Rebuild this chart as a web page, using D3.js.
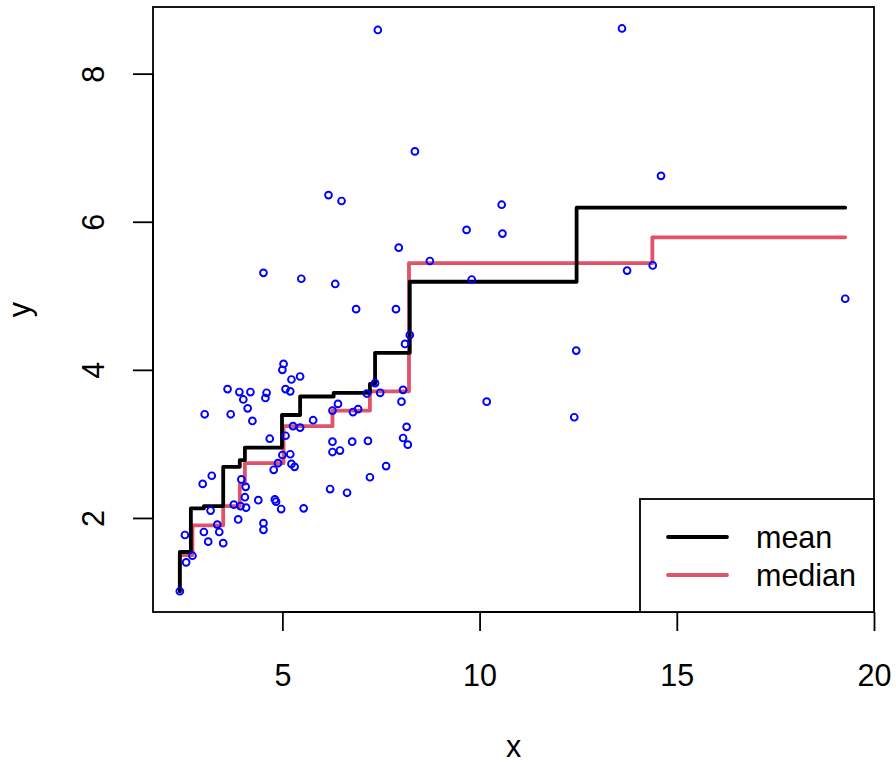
<!DOCTYPE html>
<html>
<head>
<meta charset="utf-8">
<script src="https://cdn.jsdelivr.net/npm/d3@7"></script>
<style>
    body { margin: 0; background: #fff; }
    svg text { font-family: "Liberation Sans", Arial, Helvetica, sans-serif; font-size: 30.5px; fill: #000; }
</style>
</head>
<body>
<div id="chart"></div>
<script>
//Datos
const xVals = [2.40, 2.56, 2.72, 2.53, 3.01, 3.12, 3.35, 3.40, 3.50, 3.18, 2.98, 3.21, 3.88, 4.52, 4.52, 3.77, 3.94, 4.08, 4.05, 4.07,
    3.96, 4.39, 4.81, 4.84, 4.97, 5.54, 4.78, 4.89, 5.00, 5.20, 5.23, 5.31, 4.68, 5.08, 5.27, 5.45, 5.78, 4.24, 3.03, 3.69,
    4.12, 4.01, 4.57, 4.60, 4.19, 3.91, 3.61, 5.08, 5.20, 5.23, 5.45, 5.00, 5.03, 6.27, 6.41, 6.79, 6.92, 6.27, 6.77, 7.17,
    6.27, 6.46, 7.63, 7.22, 6.21, 6.64, 7.14, 7.48, 7.35, 8.06, 8.02, 8.15, 8.06, 8.18, 8.11, 8.23, 4.52, 5.48, 6.34, 6.87,
    7.88, 7.95, 8.74, 6.17, 6.50, 8.36, 7.42, 9.80, 9.67, 10.56, 10.58, 10.18, 12.45, 12.40, 13.61, 14.60, 13.74, 14.39, 19.27];
const yVals = [1.01, 1.40, 1.49, 1.77, 1.81, 1.68, 1.91, 1.81, 1.66, 2.10, 2.46, 2.57, 1.98, 1.93, 1.84, 2.18, 2.16, 2.14, 2.28, 2.42,
    2.52, 2.24, 2.25, 2.22, 2.12, 2.13, 2.65, 2.74, 2.85, 2.86, 2.73, 2.69, 3.07, 3.11, 3.24, 3.22, 3.32, 3.31, 3.40, 3.40,
    3.48, 3.60, 3.62, 3.69, 3.70, 3.70, 3.74, 3.74, 3.71, 3.87, 3.91, 4.00, 4.08, 3.45, 3.54, 3.43, 3.47, 3.03, 3.03, 3.04,
    2.89, 2.91, 2.70, 2.55, 2.39, 2.34, 3.68, 3.69, 3.82, 3.73, 3.57, 3.23, 3.08, 2.99, 4.35, 4.47, 5.31, 5.23, 5.16, 4.82,
    4.82, 5.65, 5.47, 6.36, 6.28, 6.95, 8.59, 5.22, 5.89, 6.23, 5.84, 3.57, 4.26, 3.36, 8.61, 6.62, 5.34, 5.41, 4.96];

//Escalones: cortes en x y valores de media y mediana
const meanX = [2.40, 2.40, 2.68, 3.01, 3.50, 3.92, 4.05, 4.99, 5.45, 6.30, 7.22, 7.35, 8.23, 12.46, 19.27];
const meanY = [1.01, 1.54, 2.13, 2.16, 2.69, 2.78, 2.95, 3.39, 3.64, 3.69, 3.81, 4.23, 5.19, 6.19, 6.19];
const medianX = [2.40, 2.40, 2.72, 3.50, 3.92, 4.05, 5.03, 6.27, 7.22, 8.21, 14.38, 19.27];
const medianY = [1.01, 1.50, 1.90, 2.16, 2.46, 2.74, 3.24, 3.45, 3.71, 5.44, 5.79, 5.79];

const xTicks = [5, 10, 15, 20];
const yTicks = [2, 4, 6, 8];
const legendLabels = ['mean', 'median'];

//Colores fijos
const COLOR_POINTS = '#0000FF';
const COLOR_MEAN = '#000000';
const COLOR_MEDIAN = '#DF536B';

//Dimensiones
let width = 896, height = 765;
let margin = {top: 7, right: 22, bottom: 153, left: 153};

let svg = d3.select('#chart')
    .append('svg')
        .attr('width', width)
        .attr('height', height);

let x = d3.scaleLinear()
    .domain([1.72, 20.0])
    .range([margin.left, width - margin.right]);

let y = d3.scaleLinear()
    .domain([0.73, 8.9])
    .range([height - margin.bottom, margin.top]);

//Ejes
let xAxis = svg.append('g')
    .attr('transform', 'translate(0,' + (height - margin.bottom) + ')')
    .call(d3.axisBottom(x).tickValues(xTicks).tickSize(19).tickPadding(33).tickFormat(d3.format('d')));
xAxis.select('.domain').remove();
xAxis.append('line')
    .attr('x1', x(xTicks[0])).attr('x2', x(xTicks[xTicks.length - 1]))
    .attr('stroke', '#000').attr('stroke-width', 1.8);
xAxis.selectAll('.tick line').attr('stroke-width', 1.8);

let yAxis = svg.append('g')
    .attr('transform', 'translate(' + margin.left + ',0)')
    .call(d3.axisLeft(y).tickValues(yTicks).tickSize(20).tickFormat(d3.format('d')));
yAxis.select('.domain').remove();
yAxis.append('line')
    .attr('y1', y(yTicks[0])).attr('y2', y(yTicks[yTicks.length - 1]))
    .attr('stroke', '#000').attr('stroke-width', 1.8);
yAxis.selectAll('.tick line').attr('stroke-width', 1.8);
yAxis.selectAll('text')
    .attr('transform', 'rotate(-90)')
    .attr('text-anchor', 'middle')
    .attr('x', 0)
    .attr('y', -49)
    .attr('dy', 0);
svg.selectAll('g').attr('font-size', null).attr('font-family', null);

//Títulos de ejes
svg.append('text')
    .attr('x', (margin.left + width - margin.right) / 2)
    .attr('y', 757)
    .attr('text-anchor', 'middle')
    .text('x');

svg.append('text')
    .attr('transform', 'translate(30,' + ((margin.top + height - margin.bottom) / 2) + ') rotate(-90)')
    .attr('text-anchor', 'middle')
    .text('y');

//Líneas de escalones (la mediana debajo, la media encima)
let stepLine = d3.line()
    .x(function(d) { return x(d[0]); })
    .y(function(d) { return y(d[1]); })
    .curve(d3.curveStepAfter);

svg.append('path')
    .datum(medianX.map(function(d, i) { return [d, medianY[i]]; }))
    .attr('d', stepLine)
    .attr('fill', 'none')
    .attr('stroke', COLOR_MEDIAN)
    .attr('stroke-width', 3.8)
    .attr('stroke-linecap', 'round')
    .attr('stroke-linejoin', 'round');

svg.append('path')
    .datum(meanX.map(function(d, i) { return [d, meanY[i]]; }))
    .attr('d', stepLine)
    .attr('fill', 'none')
    .attr('stroke', COLOR_MEAN)
    .attr('stroke-width', 3.8)
    .attr('stroke-linecap', 'round')
    .attr('stroke-linejoin', 'round');

//Puntos
svg.append('g')
    .selectAll('circle')
    .data(xVals.map(function(d, i) { return [d, yVals[i]]; }))
    .enter()
    .append('circle')
    .attr('cx', function(d) { return x(d[0]); })
    .attr('cy', function(d) { return y(d[1]); })
    .attr('r', 3.4)
    .attr('fill', 'none')
    .attr('stroke', COLOR_POINTS)
    .attr('stroke-width', 1.9);

//Caja del gráfico
svg.append('rect')
    .attr('x', margin.left)
    .attr('y', margin.top)
    .attr('width', width - margin.left - margin.right)
    .attr('height', height - margin.top - margin.bottom)
    .attr('fill', 'none')
    .attr('stroke', '#000')
    .attr('stroke-width', 1.8);

//Leyenda (abajo a la derecha)
let legendW = 234, legendH = 113;
let legend = svg.append('g')
    .attr('transform', 'translate(' + (width - margin.right - legendW) + ',' + (height - margin.bottom - legendH) + ')');

legend.append('rect')
    .attr('width', legendW)
    .attr('height', legendH)
    .attr('fill', '#fff')
    .attr('stroke', '#000')
    .attr('stroke-width', 1.8);

let legendColors = [COLOR_MEAN, COLOR_MEDIAN];
legendLabels.forEach(function(label, i) {
    let ly = 38 + i * 38;
    legend.append('line')
        .attr('x1', 28).attr('x2', 87)
        .attr('y1', ly).attr('y2', ly)
        .attr('stroke', legendColors[i])
        .attr('stroke-width', 3.8)
        .attr('stroke-linecap', 'round');
    legend.append('text')
        .attr('x', 116)
        .attr('y', ly)
        .attr('dy', '0.35em')
        .text(label);
});
</script>
</body>
</html>
